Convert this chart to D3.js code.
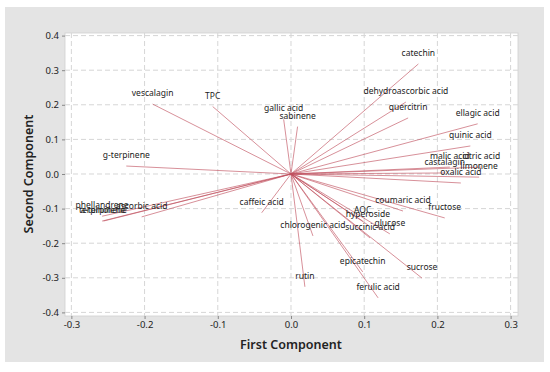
<!DOCTYPE html>
<html>
<head>
<meta charset="utf-8">
<script src="https://cdn.jsdelivr.net/npm/d3@7"></script>
<style>
  body { margin: 0; background: #fff; }
  svg text { font-family: "Noto Sans", "Open Sans", sans-serif; fill: #222; }
</style>
</head>
<body>
<svg width="550" height="372"></svg>
<script>
const width = 550;
const height = 372;
const margin = { top: 33, right: 32, bottom: 56, left: 65 };

// loadings
const variables = ["vescalagin", "TPC", "gallic acid", "sabinene", "g-terpinene",
  "catechin", "dehydroascorbic acid", "quercitrin", "ellagic acid", "quinic acid",
  "malic acid", "citric acid", "castalagin", "limonene", "oxalic acid",
  "coumaric acid", "fructose", "AOC", "hyperoside", "glucose", "succinic acid",
  "chlorogenic acid", "epicatechin", "sucrose", "ferulic acid", "rutin",
  "caffeic acid", "phellandrene", "ascorbic acid", "terpinolene", "a-terpinene"];
const firstComp = [-0.189, -0.107, -0.010, 0.009, -0.225,
  0.174, 0.157, 0.160, 0.255, 0.245,
  0.217, 0.260, 0.210, 0.257, 0.232,
  0.153, 0.210, 0.098, 0.105, 0.135, 0.108,
  0.030, 0.098, 0.179, 0.119, 0.019,
  -0.040, -0.258, -0.204, -0.258, -0.256];
const secondComp = [0.202, 0.195, 0.158, 0.137, 0.023,
  0.318, 0.208, 0.162, 0.145, 0.081,
  0.020, 0.020, 0.003, -0.009, -0.026,
  -0.107, -0.127, -0.136, -0.147, -0.173, -0.185,
  -0.179, -0.283, -0.301, -0.358, -0.326,
  -0.112, -0.122, -0.124, -0.136, -0.136];

const xTicks = [-0.3, -0.2, -0.1, 0.0, 0.1, 0.2, 0.3];
const yTicks = [-0.4, -0.3, -0.2, -0.1, 0.0, 0.1, 0.2, 0.3, 0.4];

const svg = d3.select("svg");

// grey panel
svg.append("rect")
  .attr("x", 5).attr("y", 7)
  .attr("width", 539).attr("height", 355)
  .attr("fill", "#e4e4e4");

const iw = width - margin.left - margin.right;
const ih = height - margin.top - margin.bottom;

const x = d3.scaleLinear().domain([-0.3087, 0.3101]).range([0, iw]);
const y = d3.scaleLinear().domain([-0.4104, 0.4075]).range([ih, 0]);

const chart = svg.append("g").attr("transform", `translate(${margin.left},${margin.top})`);

chart.append("rect")
  .attr("width", iw).attr("height", ih)
  .attr("fill", "#fff")
  .attr("stroke", "#cfcfcf")
  .attr("stroke-width", 0.8);

// dashed grid
chart.selectAll(".vgrid")
  .data(xTicks)
  .enter().append("line")
  .attr("x1", d => x(d)).attr("x2", d => x(d))
  .attr("y1", 0).attr("y2", ih)
  .attr("stroke", "#d6d6d6")
  .attr("stroke-dasharray", "5,3");

chart.selectAll(".hgrid")
  .data(yTicks)
  .enter().append("line")
  .attr("x1", 0).attr("x2", iw)
  .attr("y1", d => y(d)).attr("y2", d => y(d))
  .attr("stroke", "#d6d6d6")
  .attr("stroke-dasharray", "5,3");

// axes
const xAxis = chart.append("g")
  .attr("transform", `translate(0,${ih})`)
  .call(d3.axisBottom(x).tickValues(xTicks).tickFormat(d3.format(".1f")).tickSize(3).tickPadding(2));
const yAxis = chart.append("g")
  .call(d3.axisLeft(y).tickValues(yTicks).tickFormat(d3.format(".1f")).tickSize(3).tickPadding(3));

[xAxis, yAxis].forEach(a => {
  a.select(".domain").remove();
  a.selectAll(".tick line").attr("stroke", "#888");
  a.selectAll(".tick text")
    .attr("font-size", 9.5)
    .attr("fill", "#222")
    .style("font-family", "'Noto Sans', sans-serif");
});
xAxis.selectAll(".tick text").text(d => d3.format(".1f")(d).replace("−", "-"));
yAxis.selectAll(".tick text").text(d => d3.format(".1f")(d).replace("−", "-"));

// axis titles
svg.append("text")
  .attr("x", margin.left + x(0))
  .attr("y", 349)
  .attr("text-anchor", "middle")
  .attr("font-size", 12.5)
  .attr("font-weight", 600)
  .text("First Component");

svg.append("text")
  .attr("transform", `translate(33,${margin.top + y(0)}) rotate(-90)`)
  .attr("text-anchor", "middle")
  .attr("font-size", 12.5)
  .attr("font-weight", 600)
  .text("Second Component");

// loading vectors
const data = variables.map((v, i) => ({ name: v, pc1: firstComp[i], pc2: secondComp[i] }));

chart.selectAll(".vec")
  .data(data)
  .enter().append("line")
  .attr("class", "vec")
  .attr("x1", x(0)).attr("y1", y(0))
  .attr("x2", d => x(d.pc1))
  .attr("y2", d => y(d.pc2))
  .attr("stroke", "#c0505e")
  .attr("stroke-opacity", 0.8)
  .attr("stroke-width", 0.8);

chart.selectAll(".lbl")
  .data(data)
  .enter().append("text")
  .attr("class", "lbl")
  .attr("x", d => x(d.pc1))
  .attr("y", d => y(d.pc2) - 8)
  .attr("text-anchor", "middle")
  .attr("font-size", 8.5)
  .text(d => d.name);
</script>
</body>
</html>
